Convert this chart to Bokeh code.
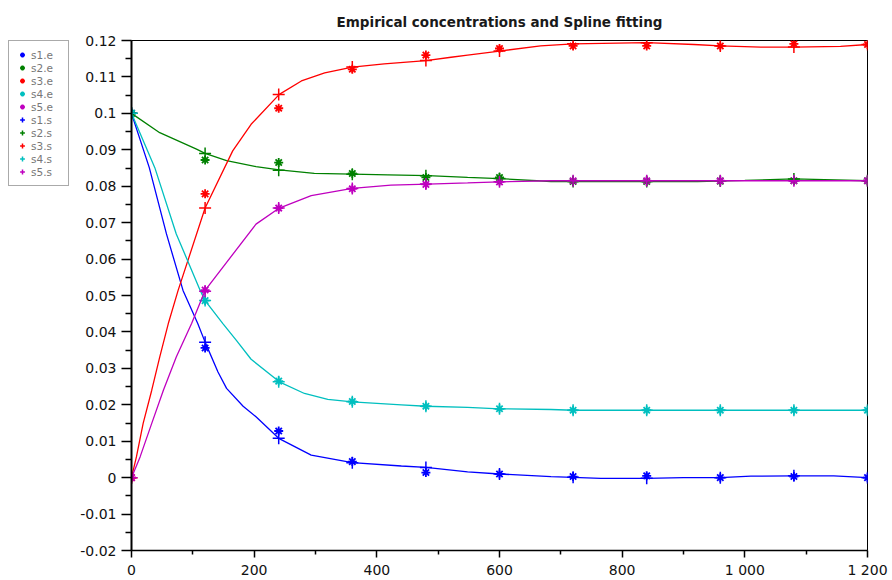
from bokeh.plotting import figure
from bokeh.layouts import row
from bokeh.models import Legend, LegendItem, Range1d, FixedTicker
from bokeh.embed import file_html
from bokeh.resources import INLINE

# ---- sample times ----
t = [0, 120, 240, 360, 480, 600, 720, 840, 960, 1080, 1200]

# ---- empirical concentrations (.e, asterisks) ----
s1_e = [0.1, 0.0356, 0.0128, 0.0044, 0.0014, 0.0010, 0.0003, 0.0005, 0.0000, 0.0003, 0.0000]
s2_e = [0.1, 0.0872, 0.0865, 0.0835, 0.0824, 0.0824, 0.0813, 0.0813, 0.0814, 0.0815, 0.0815]
s3_e = [0.0, 0.0779, 0.1014, 0.1121, 0.1160, 0.1178, 0.1185, 0.1185, 0.1185, 0.1191, 0.1189]
s4_e = [0.1, 0.0486, 0.0265, 0.0209, 0.0196, 0.0189, 0.0185, 0.0185, 0.0185, 0.0185, 0.0185]
s5_e = [0.0, 0.0515, 0.0740, 0.0793, 0.0805, 0.0812, 0.0815, 0.0815, 0.0815, 0.0815, 0.0815]

# ---- spline values at sample times (.s, plus markers) ----
s1_s = [0.1, 0.0372, 0.0108, 0.0041, 0.0028, 0.0010, 0.0001, -0.0002, 0.0000, 0.0005, 0.0000]
s2_s = [0.1, 0.0890, 0.0844, 0.0833, 0.0829, 0.0821, 0.0813, 0.0813, 0.0814, 0.0820, 0.0815]
s3_s = [0.0, 0.0740, 0.1052, 0.1127, 0.1145, 0.1171, 0.1191, 0.1194, 0.1185, 0.1182, 0.1189]
s4_s = [0.1, 0.0486, 0.0263, 0.0208, 0.0196, 0.0189, 0.0185, 0.0185, 0.0185, 0.0185, 0.0185]
s5_s = [0.0, 0.0512, 0.0740, 0.0794, 0.0806, 0.0812, 0.0815, 0.0815, 0.0815, 0.0815, 0.0815]

# ---- spline curves ----
s1_cx = [0, 29, 57, 84, 108, 120, 141, 155, 182, 203, 240, 293, 360, 440, 480, 548, 600, 684, 720, 765, 840, 900, 960, 1010, 1080, 1145, 1200]
s1_cy = [0.1, 0.0851, 0.0669, 0.0514, 0.0423, 0.0372, 0.0290, 0.0245, 0.0196, 0.0167, 0.0108, 0.0062, 0.0041, 0.0032, 0.0028, 0.0016, 0.0010, 0.0003, 0.0001, -0.0002, -0.0002, 0.0000, 0.0000, 0.0004, 0.0005, 0.0005, 0.0000]

s2_cx = [0, 46, 106, 120, 155, 203, 241, 298, 360, 418, 483, 548, 600, 684, 720, 840, 923, 1000, 1080, 1130, 1200]
s2_cy = [0.1, 0.0947, 0.0902, 0.0890, 0.0870, 0.0854, 0.0845, 0.0835, 0.0833, 0.0831, 0.0829, 0.0824, 0.0821, 0.0813, 0.0813, 0.0813, 0.0813, 0.0816, 0.0820, 0.0818, 0.0815]

s3_cx = [0, 8, 19, 33, 46, 60, 76, 120, 165, 195, 241, 277, 315, 360, 412, 480, 521, 548, 600, 667, 720, 840, 917, 960, 1026, 1080, 1156, 1200]
s3_cy = [0.0, 0.0057, 0.0149, 0.0240, 0.0331, 0.0423, 0.0514, 0.0740, 0.0897, 0.0970, 0.1052, 0.1089, 0.1111, 0.1127, 0.1136, 0.1145, 0.1154, 0.1160, 0.1171, 0.1185, 0.1191, 0.1194, 0.1189, 0.1185, 0.1182, 0.1182, 0.1184, 0.1189]

s4_cx = [0, 38, 73, 112, 120, 149, 171, 195, 241, 282, 320, 360, 440, 480, 548, 600, 684, 720, 840, 960, 1080, 1200]
s4_cy = [0.1, 0.0851, 0.0669, 0.0514, 0.0486, 0.0423, 0.0377, 0.0325, 0.0263, 0.0231, 0.0215, 0.0208, 0.0200, 0.0196, 0.0193, 0.0189, 0.0187, 0.0185, 0.0185, 0.0185, 0.0185, 0.0185]

s5_cx = [0, 14, 33, 52, 73, 98, 120, 203, 241, 293, 360, 423, 483, 548, 600, 684, 720, 840, 960, 1080, 1200]
s5_cy = [0.0, 0.0057, 0.0149, 0.0240, 0.0331, 0.0423, 0.0514, 0.0696, 0.0740, 0.0774, 0.0794, 0.0803, 0.0806, 0.0809, 0.0812, 0.0815, 0.0815, 0.0815, 0.0815, 0.0815, 0.0815]

names = ["s1", "s2", "s3", "s4", "s5"]
colors = ["#0000ff", "#008000", "#ff0000", "#00bfbf", "#bf00bf"]

# ---- ticks ----
x_ticks = [0, 200, 400, 600, 800, 1000, 1200]
x_tick_labels = ["0", "200", "400", "600", "800", "1 000", "1 200"]
x_minor = [100, 300, 500, 700, 900, 1100]
y_tick_labels = ["-0.02", "-0.01", "0", "0.01", "0.02", "0.03", "0.04", "0.05",
                 "0.06", "0.07", "0.08", "0.09", "0.1", "0.11", "0.12"]
y_ticks = [float(s) for s in y_tick_labels]
y_minor = [-0.015, -0.005, 0.005, 0.015, 0.025, 0.035, 0.045, 0.055, 0.065,
           0.075, 0.085, 0.095, 0.105, 0.115]

FONT = "DejaVu Sans"
LEG_W = 70

# ---------------- main plot ----------------
p = figure(width=892 - LEG_W, height=580, output_backend="svg", toolbar_location=None,
           x_range=Range1d(0, 1200), y_range=Range1d(-0.02, 0.12),
           min_border_left=131 - LEG_W, min_border_right=25, min_border_top=39,
           min_border_bottom=30)
p.background_fill_color = "white"
p.border_fill_color = "white"
p.outline_line_color = "#000000"
p.outline_line_width = 1
p.xgrid.visible = False
p.ygrid.visible = False

p.title.text = "Empirical concentrations and Spline fitting"
p.title.align = "center"
p.title.text_font = FONT
p.title.text_font_size = "13.5px"
p.title.text_font_style = "bold"
p.title.text_color = "#1a1a1a"
p.title.standoff = 22

p.xaxis.ticker = FixedTicker(ticks=x_ticks, minor_ticks=x_minor)
p.xaxis.major_label_overrides = {v: s for v, s in zip(x_ticks, x_tick_labels)}
p.yaxis.ticker = FixedTicker(ticks=y_ticks, minor_ticks=y_minor)
p.yaxis.major_label_overrides = {v: s for v, s in zip(y_ticks, y_tick_labels)}

for ax in (p.xaxis, p.yaxis):
    ax.axis_line_color = "black"
    ax.major_tick_line_color = "black"
    ax.minor_tick_line_color = "black"
    ax.major_tick_in = 0
    ax.minor_tick_in = 0
    ax.major_label_text_font = FONT
    ax.major_label_text_font_size = "14px"
    ax.major_label_text_color = "#111111"
p.yaxis.axis_line_width = 2
p.yaxis.major_tick_line_width = 1.5
p.yaxis.minor_tick_line_width = 1.5
p.yaxis.major_tick_out = 10
p.yaxis.minor_tick_out = 6
p.yaxis.major_label_standoff = 5
p.xaxis.axis_line_width = 1.5
p.xaxis.major_tick_line_width = 1.5
p.xaxis.minor_tick_line_width = 1.5
p.xaxis.major_tick_out = 7
p.xaxis.minor_tick_out = 4
p.xaxis.major_label_standoff = 4

e_vals = [s1_e, s2_e, s3_e, s4_e, s5_e]
s_vals = [s1_s, s2_s, s3_s, s4_s, s5_s]
curves = [(s1_cx, s1_cy), (s2_cx, s2_cy), (s3_cx, s3_cy), (s4_cx, s4_cy), (s5_cx, s5_cy)]

for col, ys in zip(colors, e_vals):
    p.scatter(t, ys, marker="asterisk", size=9, line_color=col, line_width=1.8)

for col, ys, (cx, cy) in zip(colors, s_vals, curves):
    p.line(cx, cy, line_color=col, line_width=1.3)
    p.scatter(t, ys, marker="cross", size=12, line_color=col, line_width=1.5)

# ---------------- legend panel (left of the axes) ----------------
# Its renderers carry the same series, but its ranges keep them out of view,
# so only the legend itself shows in this narrow panel.
lg = figure(width=LEG_W, height=580, output_backend="svg", toolbar_location=None,
            title=None, x_range=Range1d(5000, 5001), y_range=Range1d(5000, 5001),
            x_axis_location=None, y_axis_location=None,
            min_border_left=0, min_border_right=0, min_border_top=0, min_border_bottom=0)
lg.outline_line_color = None
lg.xgrid.visible = False
lg.ygrid.visible = False
lg.background_fill_color = "white"
lg.border_fill_color = "white"

items = []
for n, col, ys in zip(names, colors, e_vals):
    r = lg.scatter(t, ys, marker="asterisk", size=9, line_color=col, line_width=1.8)
    items.append(LegendItem(label=n + ".e", renderers=[r]))
for n, col, ys in zip(names, colors, s_vals):
    r = lg.scatter(t, ys, marker="cross", size=12, line_color=col, line_width=1.5)
    items.append(LegendItem(label=n + ".s", renderers=[r]))

legend = Legend(items=items, location=(8, 364), orientation="vertical",
                padding=7, spacing=0, margin=0,
                glyph_width=12, glyph_height=13, label_height=13, label_width=30,
                label_standoff=3,
                label_text_font=FONT, label_text_font_size="10.5px",
                label_text_color="#777777",
                border_line_color="#555555", border_line_width=1,
                background_fill_color="white", background_fill_alpha=1.0)
lg.add_layout(legend, "center")

layout = row(lg, p)
open("out.html", "w").write(file_html(layout, INLINE))
